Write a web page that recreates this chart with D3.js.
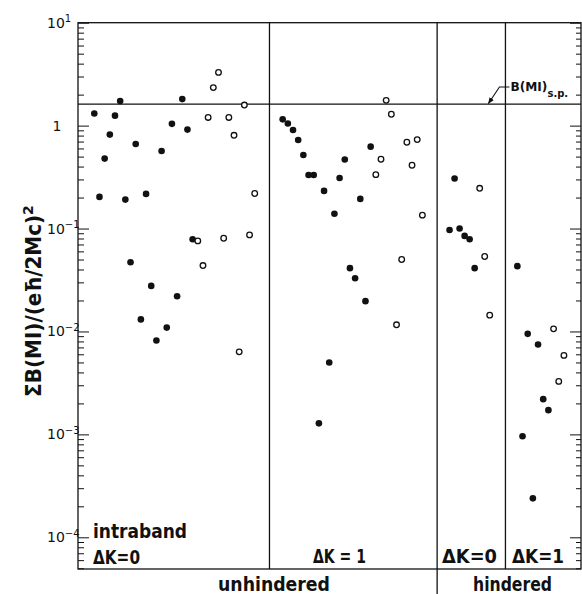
<!DOCTYPE html>
<html lang="en">
<head>
    <meta charset="UTF-8">
    <title>Summed M1 strengths</title>
    <script src="https://d3js.org/d3.v7.min.js"></script>
    <style>
        body { margin: 0; background: #fff; }
        svg text { font-family: "DejaVu Sans", sans-serif; fill: #111; }
        .frame { stroke: #111; stroke-width: 1.3px; fill: none; }
        .ticks line { stroke: #111; stroke-width: 1px; }
        .ticks path { display: none; }
        .lbl { font-weight: bold; }
        .pl { font-family: "DejaVu Sans Condensed", "DejaVu Sans", sans-serif; }
    </style>
</head>
<body>
    <div id="chart"></div>
    <script>
        // y values, one list per panel, filled then open
        const p1Filled = [1.31, 0.203, 0.478, 0.818, 1.25, 1.73, 0.191, 0.0471, 0.663, 0.0131,
                          0.217, 0.0277, 0.00818, 0.567, 0.0109, 1.04, 0.022, 1.81, 0.915, 0.0787];
        const p1Open   = [0.0758, 0.0437, 1.2, 2.34, 3.29, 0.0805, 1.2, 0.805, 0.00634, 1.585, 0.0867, 0.219];
        const p2Filled = [1.15, 1.05, 0.906, 0.725, 0.518, 0.331, 0.331, 0.00128, 0.232, 0.005,
                          0.139, 0.31, 0.468, 0.0412, 0.0329, 0.194, 0.0197, 0.625];
        const p2Open   = [0.334, 0.471, 1.76, 1.29, 0.0116, 0.05, 0.689, 0.412, 0.731, 0.135];
        const p3Filled = [0.0969, 0.306, 0.1, 0.0848, 0.0787, 0.0412];
        const p3Open   = [0.246, 0.0535, 0.0144];
        const p4Filled = [0.0431, 0.00096, 0.00948, 0.000239, 0.00748, 0.0022, 0.00172];
        const p4Open   = [0.0106, 0.00327, 0.00585];

        const panelStart = [3.15, 39.55, 71.8, 84.9];   // first slot of each panel
        const panelStep  = [1, 1, 0.97, 1];
        const dividers   = [37, 69.4, 82.6];
        const spValue    = 1.62;                        // B(M1)s.p.
        const majorExp   = [1, 0, -1, -2, -3, -4];

        const groups = [[p1Filled, p1Open], [p2Filled, p2Open], [p3Filled, p3Open], [p4Filled, p4Open]];
        const points = [];
        groups.forEach(([f, o], p) => {
            f.concat(o).forEach((v, i) => {
                points.push({ x: panelStart[p] + i * panelStep[p], v: v, open: i >= f.length });
            });
        });

        const W = 582, H = 594;
        const m = { left: 78, right: 581, top: 22.7, bottom: 569 };

        const svg = d3.select("#chart").append("svg")
            .attr("width", W).attr("height", H);

        const x = d3.scaleLinear().domain([0, 97.2]).range([m.left, m.right]);
        const y = d3.scaleLog().domain([4.92e-5, 10]).range([m.bottom, m.top]);

        const majors = majorExp.map(e => Math.pow(10, e));
        const minors = [];
        for (let e = -5; e < 1; e++) {
            for (let k = 2; k <= 9; k++) {
                const v = k * Math.pow(10, e);
                if (v >= y.domain()[0] && v <= 10) minors.push(v);
            }
        }

        // inward ticks, left and right
        svg.append("g").attr("class", "ticks").attr("transform", `translate(${m.left},0)`)
            .call(d3.axisLeft(y).tickValues(majors).tickSize(-11).tickFormat(""));
        svg.append("g").attr("class", "ticks").attr("transform", `translate(${m.left},0)`)
            .call(d3.axisLeft(y).tickValues(minors).tickSize(-6).tickFormat(""));
        svg.append("g").attr("class", "ticks").attr("transform", `translate(${m.right},0)`)
            .call(d3.axisRight(y).tickValues(majors).tickSize(-11).tickFormat(""));
        svg.append("g").attr("class", "ticks").attr("transform", `translate(${m.right},0)`)
            .call(d3.axisRight(y).tickValues(minors).tickSize(-5).tickFormat(""));

        // frame
        svg.append("rect").attr("class", "frame")
            .attr("x", m.left).attr("y", m.top)
            .attr("width", m.right - m.left).attr("height", m.bottom - m.top);

        // panel dividers
        dividers.forEach((d, i) => {
            svg.append("line").attr("class", "frame")
                .attr("x1", x(d)).attr("x2", x(d))
                .attr("y1", m.top).attr("y2", i === 1 ? H : m.bottom);
        });

        // single-particle line
        svg.append("line").attr("class", "frame")
            .attr("x1", m.left).attr("x2", m.right)
            .attr("y1", y(spValue)).attr("y2", y(spValue));

        // tick labels
        majorExp.forEach(e => {
            const t = svg.append("text")
                .attr("y", y(Math.pow(10, e)))
                .attr("dy", "0.36em")
                .style("font-size", "14px");
            if (e === 0) {
                t.attr("x", 57).attr("text-anchor", "middle").text("1");
            } else {
                t.attr("x", 47);
                t.append("tspan").text("10");
                t.append("tspan").attr("dy", "-0.55em").style("font-size", "10px")
                    .text(e > 0 ? e : "\u2212" + (-e));
            }
        });

        // y title
        const yt = svg.append("text").attr("class", "lbl")
            .attr("transform", `translate(41,301) rotate(-90)`)
            .attr("text-anchor", "middle")
            .style("font-size", "21px");
        yt.append("tspan").attr("textLength", 182).attr("lengthAdjust", "spacingAndGlyphs")
            .text("\u03a3B(MI)/(e\u0127/2Mc)");
        yt.append("tspan").attr("dy", "-0.6em").style("font-size", "14px").text("2");

        // points
        svg.append("g").selectAll("circle")
            .data(points)
            .enter().append("circle")
            .attr("cx", d => x(d.x))
            .attr("cy", d => y(d.v))
            .attr("r", d => d.open ? 2.8 : 3.3)
            .attr("fill", d => d.open ? "#fff" : "#111")
            .attr("stroke", "#111")
            .attr("stroke-width", d => d.open ? 1.3 : 0);

        // B(MI)s.p. annotation
        const dx = x(dividers[2]), sy = y(spValue);
        svg.append("defs").append("marker")
            .attr("id", "ah").attr("viewBox", "0 0 10 10")
            .attr("refX", 9).attr("refY", 5)
            .attr("markerWidth", 6).attr("markerHeight", 6)
            .attr("orient", "auto")
            .append("path").attr("d", "M0,1 L10,5 L0,9 Z").attr("fill", "#111");
        svg.append("path")
            .attr("d", `M${dx + 4},${sy - 17} L${dx - 6},${sy - 17} L${dx - 17},${sy - 0.5}`)
            .attr("fill", "none").attr("stroke", "#111").attr("stroke-width", 1.1)
            .attr("marker-end", "url(#ah)");
        const sp = svg.append("text").attr("class", "lbl")
            .attr("x", dx + 5).attr("y", sy - 13)
            .style("font-size", "13px");
        sp.append("tspan").attr("textLength", 37).attr("lengthAdjust", "spacingAndGlyphs").text("B(MI)");
        sp.append("tspan").attr("dy", 6).style("font-size", "10px").text("s.p.");

        // panel labels
        const labels = [
            { t: "intraband", x0: 93, x1: 187, y: 537.5, s: 20 },
            { t: "\u0394K=0", x0: 93, x1: 140, y: 564, s: 20 },
            { t: "\u0394K = 1", x0: 313, x1: 366, y: 563, s: 19 },
            { t: "\u0394K=0", x0: 442, x1: 497, y: 563, s: 20 },
            { t: "\u0394K=1", x0: 512, x1: 564, y: 563, s: 20 },
            { t: "unhindered", x0: 218, x1: 330, y: 591, s: 19 },
            { t: "hindered", x0: 473, x1: 552, y: 591, s: 19 }
        ];
        svg.selectAll("text.pl")
            .data(labels)
            .enter().append("text")
            .attr("class", "pl lbl")
            .attr("x", d => d.x0).attr("y", d => d.y)
            .attr("textLength", d => d.x1 - d.x0)
            .attr("lengthAdjust", "spacingAndGlyphs")
            .style("font-size", d => d.s + "px")
            .text(d => d.t);
    </script>
</body>
</html>
